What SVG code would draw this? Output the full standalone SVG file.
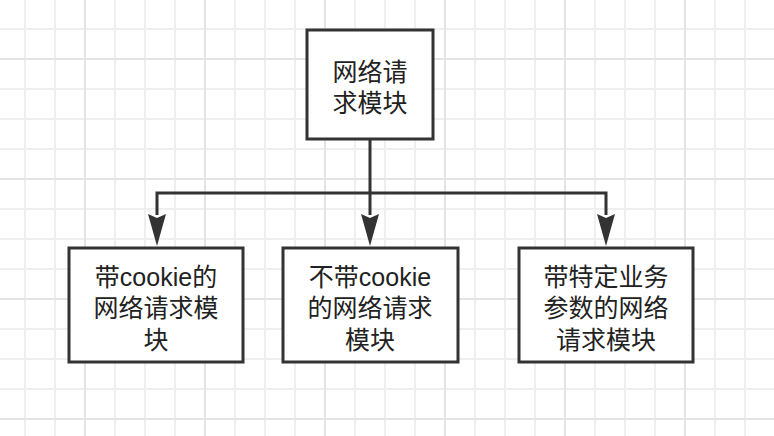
<svg xmlns="http://www.w3.org/2000/svg" width="774" height="436" viewBox="0 0 774 436">
<style>
.box{fill:#ffffff;stroke:#333333;stroke-width:3}
.lbl{font-family:"Liberation Sans","Noto Sans CJK SC",sans-serif;font-size:25px;fill:#222222;text-anchor:middle}
.conn{fill:none;stroke:#333333;stroke-width:3}
.head{fill:#333333}
</style>
<defs>
<pattern id="minor" patternUnits="userSpaceOnUse" x="10" y="14" width="30" height="30">
<path d="M15 0V30M0 15H30" stroke="#efefef" stroke-width="2" fill="none"/>
</pattern>
<pattern id="major" patternUnits="userSpaceOnUse" x="25" y="-1" width="120" height="120">
<path d="M60 0V120M0 60H120" stroke="#e4e4e4" stroke-width="2" fill="none"/>
</pattern>
</defs>
<rect width="774" height="436" fill="#ffffff"/>
<rect width="774" height="436" fill="url(#minor)"/>
<rect width="774" height="436" fill="url(#major)"/>
<g id="connectors">
<path class="conn" d="M370 139V215"/>
<path class="conn" d="M157 215V193H606V215"/>
<polygon class="head" points="361,214 370,218 379,214 370,246"/>
<polygon class="head" points="148,214 157,218 166,214 157,246"/>
<polygon class="head" points="597,214 606,218 615,214 606,246"/>
</g>
<g id="root">
<rect class="box" x="307" y="30" width="126" height="109"/>
<text class="lbl" x="370" y="81">网络请</text>
<text class="lbl" x="370" y="112">求模块</text>
</g>
<g id="cookie">
<rect class="box" x="69" y="248" width="174" height="114"/>
<text class="lbl" x="156" y="286">带cookie的</text>
<text class="lbl" x="156" y="317">网络请求模</text>
<text class="lbl" x="156" y="349">块</text>
</g>
<g id="nocookie">
<rect class="box" x="283" y="248" width="175" height="114"/>
<text class="lbl" x="370" y="286">不带cookie</text>
<text class="lbl" x="370" y="317">的网络请求</text>
<text class="lbl" x="370" y="349">模块</text>
</g>
<g id="params">
<rect class="box" x="519" y="248" width="174" height="114"/>
<text class="lbl" x="606" y="286">带特定业务</text>
<text class="lbl" x="606" y="317">参数的网络</text>
<text class="lbl" x="606" y="349">请求模块</text>
</g>
</svg>
